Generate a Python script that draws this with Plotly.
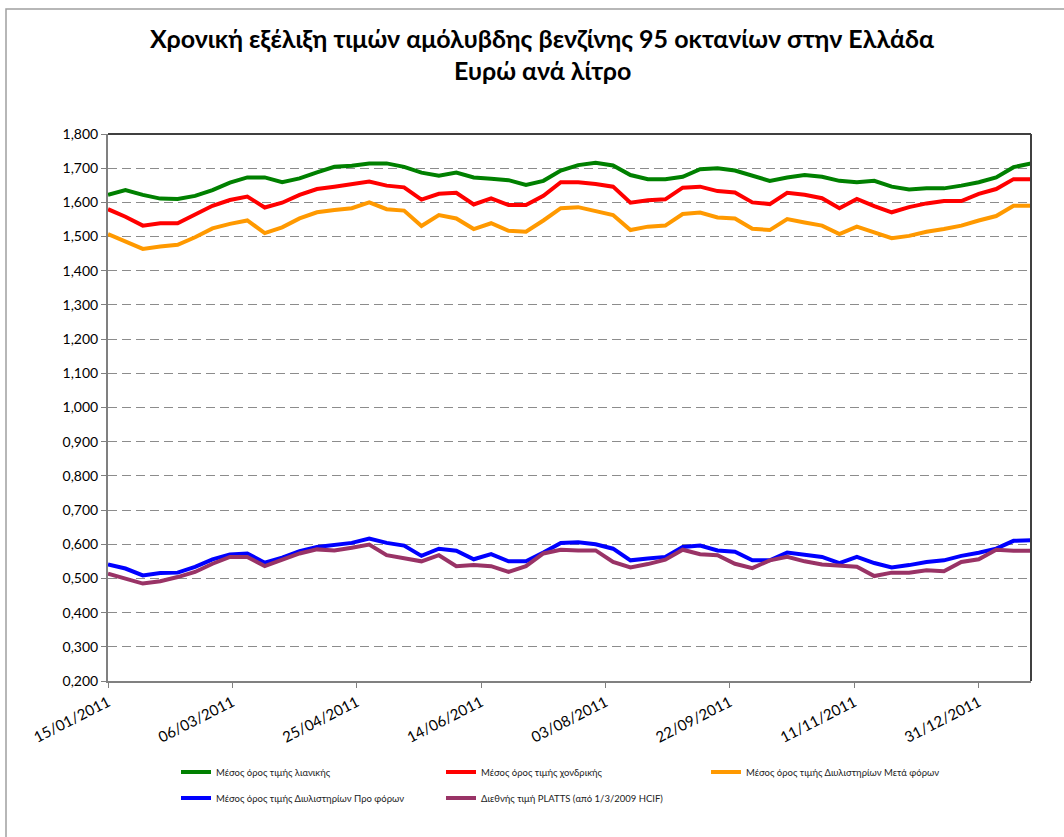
import plotly.graph_objects as go
import pandas as pd

# ---- data ----
start_date = "2011-01-15"
n_weeks = 54
dates = pd.date_range(start_date, periods=n_weeks, freq="7D")

retail = [1.622, 1.636, 1.622, 1.611, 1.610, 1.619, 1.636, 1.658, 1.673, 1.673,
          1.659, 1.670, 1.688, 1.704, 1.707, 1.714, 1.714, 1.704, 1.687, 1.678,
          1.687, 1.673, 1.669, 1.665, 1.651, 1.663, 1.693, 1.709, 1.716, 1.708,
          1.680, 1.668, 1.668, 1.675, 1.697, 1.700, 1.693, 1.678, 1.663, 1.673,
          1.680, 1.675, 1.663, 1.659, 1.663, 1.646, 1.638, 1.641, 1.641, 1.649,
          1.659, 1.673, 1.703, 1.714]

wholesale = [1.580, 1.558, 1.532, 1.539, 1.539, 1.565, 1.590, 1.607, 1.617, 1.585,
             1.599, 1.622, 1.639, 1.646, 1.654, 1.661, 1.649, 1.644, 1.608, 1.625,
             1.628, 1.594, 1.612, 1.592, 1.592, 1.619, 1.659, 1.659, 1.654, 1.646,
             1.599, 1.606, 1.609, 1.643, 1.646, 1.633, 1.629, 1.600, 1.595, 1.628,
             1.622, 1.612, 1.583, 1.610, 1.589, 1.571, 1.586, 1.597, 1.604, 1.604,
             1.625, 1.639, 1.668, 1.668]

refinery_after_tax = [1.507, 1.485, 1.464, 1.471, 1.476, 1.498, 1.524, 1.537, 1.547, 1.510,
                      1.527, 1.553, 1.571, 1.578, 1.583, 1.600, 1.580, 1.576, 1.531, 1.563,
                      1.553, 1.522, 1.539, 1.517, 1.514, 1.547, 1.583, 1.586, 1.576, 1.563,
                      1.519, 1.529, 1.532, 1.566, 1.570, 1.556, 1.553, 1.523, 1.519, 1.551,
                      1.541, 1.532, 1.507, 1.529, 1.512, 1.495, 1.502, 1.514, 1.522, 1.532,
                      1.547, 1.560, 1.590, 1.590]

refinery_pre_tax = [0.541, 0.529, 0.509, 0.516, 0.517, 0.534, 0.556, 0.570, 0.573, 0.546,
                    0.561, 0.580, 0.592, 0.599, 0.604, 0.617, 0.604, 0.596, 0.566, 0.587,
                    0.581, 0.556, 0.571, 0.550, 0.550, 0.576, 0.604, 0.606, 0.600, 0.587,
                    0.553, 0.558, 0.563, 0.592, 0.596, 0.582, 0.578, 0.553, 0.553, 0.576,
                    0.570, 0.563, 0.545, 0.563, 0.545, 0.532, 0.539, 0.548, 0.553, 0.566,
                    0.575, 0.587, 0.610, 0.612]

platts = [0.514, 0.500, 0.485, 0.492, 0.504, 0.519, 0.543, 0.563, 0.563, 0.536,
          0.553, 0.573, 0.585, 0.582, 0.590, 0.599, 0.568, 0.558, 0.550, 0.568,
          0.536, 0.539, 0.536, 0.519, 0.536, 0.573, 0.584, 0.582, 0.582, 0.548,
          0.532, 0.542, 0.555, 0.584, 0.571, 0.568, 0.543, 0.530, 0.553, 0.563,
          0.550, 0.541, 0.537, 0.534, 0.507, 0.517, 0.517, 0.524, 0.521, 0.548,
          0.556, 0.584, 0.581, 0.581]

series_names = [
    "Μέσος όρος τιμής λιανικής",
    "Μέσος όρος τιμής χονδρικής",
    "Μέσος όρος τιμής Διυλιστηρίων Μετά φόρων",
    "Μέσος όρος τιμής Διυλιστηρίων Προ φόρων",
    "Διεθνής τιμή PLATTS (από 1/3/2009 HCIF)",
]
series_values = [retail, wholesale, refinery_after_tax, refinery_pre_tax, platts]
series_colors = ["#008000", "#FF0000", "#FF9900", "#0000FF", "#993366"]
series_legend = ["legend", "legend", "legend", "legend2", "legend2"]

title_lines = ["Χρονική εξέλιξη τιμών αμόλυβδης βενζίνης 95 οκτανίων στην Ελλάδα",
               "Ευρώ ανά λίτρο"]

# ---- layout geometry ----
W, H = 1064, 837
ML, MR, MT, MB = 108, 33, 134, 156
PW, PH = W - ML - MR, H - MT - MB


def px_x(px):
    return (px - ML) / PW


def px_y(py):
    return 1 - (py - MT) / PH


fig = go.Figure()
for name, vals, col, lg in zip(series_names, series_values, series_colors, series_legend):
    fig.add_trace(go.Scatter(x=dates, y=vals, mode="lines", name=name, legend=lg,
                             line=dict(color=col, width=4)))

font_main = "Lato, 'Open Sans', sans-serif"

legend_common = dict(
    orientation="h", xanchor="left", yanchor="middle",
    font=dict(size=9.5, color="#222"),
    entrywidth=220, entrywidthmode="pixels",
    tracegroupgap=0, itemwidth=30, bgcolor="rgba(0,0,0,0)",
)

fig.update_layout(
    width=W, height=H,
    margin=dict(l=ML, r=MR, t=MT, b=MB),
    paper_bgcolor="white", plot_bgcolor="white",
    separators=",.",
    font=dict(family=font_main, color="black"),
    xaxis=dict(
        type="date",
        range=[dates[0], dates[-1]],
        tick0=start_date, dtick=50 * 86400000,
        tickformat="%d/%m/%Y", tickangle=-27,
        tickfont=dict(size=15, color="black"),
        showgrid=False, zeroline=False,
        showline=True, linecolor="#808080", linewidth=2,
        ticks="outside", ticklen=5, tickcolor="#808080",
    ),
    yaxis=dict(
        range=[0.2, 1.8], dtick=0.1, tick0=0.2,
        tickformat=".3f",
        tickfont=dict(size=14, color="black"),
        showgrid=True, gridcolor="#8c8c8c", gridwidth=1, griddash="9px,5px",
        zeroline=False,
        showline=True, linecolor="#808080", linewidth=2,
        ticks="outside", ticklen=5, tickcolor="#808080",
    ),
    legend=dict(x=px_x(176), y=px_y(772), **legend_common),
    legend2=dict(x=px_x(176), y=px_y(798), **legend_common),
    showlegend=True,
)

# title as two centred lines
for txt, yc in zip(title_lines, [38, 70]):
    fig.add_annotation(text="<b>" + txt + "</b>", xref="paper", yref="paper",
                       x=px_x(542), y=px_y(yc), xanchor="center", yanchor="middle",
                       showarrow=False,
                       font=dict(size=25, family=font_main, color="black"))

# plot frame top/right (dark) and outer chart border
fig.add_shape(type="line", xref="paper", yref="paper", x0=0, x1=1, y0=1, y1=1,
              line=dict(color="#404040", width=2))
fig.add_shape(type="line", xref="paper", yref="paper", x0=1, x1=1, y0=0, y1=1,
              line=dict(color="#404040", width=2))
fig.add_shape(type="rect", xref="paper", yref="paper",
              x0=px_x(6), x1=px_x(W + 20), y0=px_y(H + 20), y1=px_y(9),
              line=dict(color="#a0a0a0", width=1.5), layer="below")

fig.write_html("out.html", config={"displayModeBar": False},
               post_script="document.body.style.margin='0';document.body.style.overflow='hidden';")
